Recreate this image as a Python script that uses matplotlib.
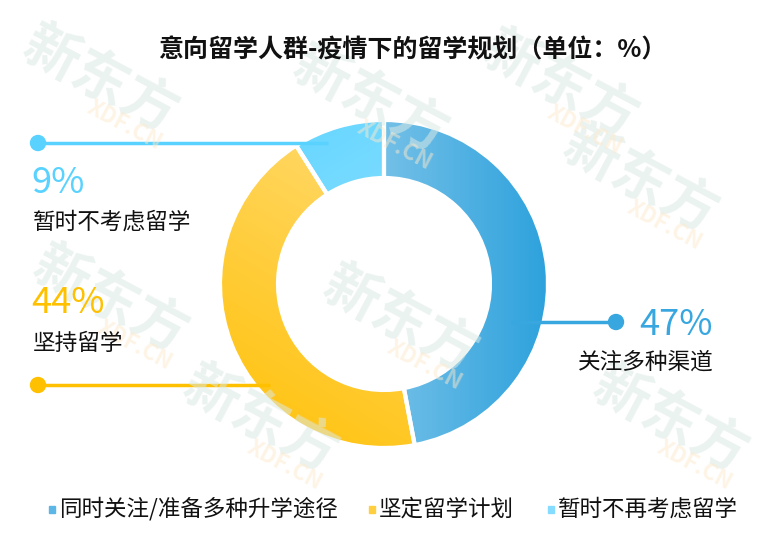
import numpy as np
import matplotlib
matplotlib.use('Agg')
import matplotlib.pyplot as plt
from matplotlib.patches import Wedge, Rectangle, Circle
from matplotlib.colors import LinearSegmentedColormap

plt.rcParams['font.family'] = ['Noto Sans CJK SC', 'DejaVu Sans']

# --- 数据 ---
title = '意向留学人群-疫情下的留学规划（单位：%）'
shares = [47, 44, 9]
pct_labels = ['47%', '44%', '9%']
short_labels = ['关注多种渠道', '坚持留学', '暂时不考虑留学']
legend_labels = ['同时关注/准备多种升学途径', '坚定留学计划', '暂时不再考虑留学']

# --- 样式 ---
W, H = 764, 537
cx, cy = 384, H - 284
r_out, ring = 163, 56
grad_colors = [('#b8def2', '#2ea2dd'), ('#ffe08a', '#ffc107'), ('#5fd4ff', '#b4eaff')]
# 渐变方向 (dx, dy)，像素坐标，y 向上
grad_dirs = [(1, 0), (-0.6, -1), (0.6, -1)]
main_colors = ['#38a7e0', '#ffc000', '#5ad2ff']
legend_sq = ['#5cb6e6', '#ffcf3f', '#86dcff']

fig = plt.figure(figsize=(W / 100, H / 100), dpi=100)
ax = fig.add_axes([0, 0, 1, 1])
ax.set_xlim(0, W)
ax.set_ylim(0, H)
ax.axis('off')

# --- 甜甜圈（渐变填充） ---
xx, yy = np.meshgrid(np.linspace(cx - r_out, cx + r_out, 300),
                     np.linspace(cy - r_out, cy + r_out, 300))
start = 90
for share, (c0, c1), (dx, dy) in zip(shares, grad_colors, grad_dirs):
    end = start - share * 3.6
    w = Wedge((cx, cy), r_out, end, start, width=ring,
              facecolor='none', edgecolor='none')
    ax.add_patch(w)
    proj = (xx - cx) * dx + (yy - cy) * dy
    proj = (proj - proj.min()) / (proj.max() - proj.min())
    cmap = LinearSegmentedColormap.from_list('g', [c0, c1])
    im = ax.imshow(proj, cmap=cmap, origin='lower', zorder=2,
                   extent=[cx - r_out, cx + r_out, cy - r_out, cy + r_out])
    im.set_clip_path(w)
    # 白色分隔
    ax.add_patch(Wedge((cx, cy), r_out + 1, end, start, width=ring + 2,
                       facecolor='none', edgecolor='white', lw=3, zorder=3))
    start = end

# --- 引线与标注 ---
# 暂时不考虑留学
ax.plot([38, 328], [H - 143, H - 143], color=main_colors[2], lw=2.5, zorder=4,
        solid_capstyle='butt')
ax.add_patch(Circle((38, H - 143), 7.5, color=main_colors[2], zorder=5))
ax.text(31, H - 183, pct_labels[2], color=main_colors[2], fontsize=26,
        va='center', ha='left', zorder=6)
ax.text(33, H - 222, short_labels[2], color='#111111', fontsize=16.3,
        va='center', ha='left', zorder=6)

# 坚持留学
ax.plot([38, 270], [H - 385, H - 385], color=main_colors[1], lw=2.5, zorder=4,
        solid_capstyle='butt')
ax.add_patch(Circle((38, H - 385), 7.5, color=main_colors[1], zorder=5))
ax.text(31, H - 303, pct_labels[1], color=main_colors[1], fontsize=26,
        va='center', ha='left', zorder=6)
ax.text(33, H - 344, short_labels[1], color='#111111', fontsize=16.3,
        va='center', ha='left', zorder=6)

# 关注多种渠道
ax.plot([511, 614], [H - 322, H - 322], color=main_colors[0], lw=2.5, zorder=4,
        solid_capstyle='butt')
ax.add_patch(Circle((616, H - 322), 7.5, color=main_colors[0], zorder=5))
ax.text(713, H - 325, pct_labels[0], color=main_colors[0], fontsize=26,
        va='center', ha='right', zorder=6)
ax.text(714, H - 362, short_labels[0], color='#111111', fontsize=16.3,
        va='center', ha='right', zorder=6)

# --- 标题 ---
ax.text(412, H - 50, title, color='#111111', fontsize=18, fontweight='bold',
        ha='center', va='center', zorder=6)

# --- 图例 ---
leg_x = [49, 369, 548]
for x0, lab, col in zip(leg_x, legend_labels, legend_sq):
    ax.add_patch(Rectangle((x0, H - 513), 6, 7, color=col, zorder=6))
    ax.text(x0 + 10, H - 509, lab, color='#111111', fontsize=16.2,
            ha='left', va='center', zorder=6)

# --- 水印 ---
wm_pos = [(100, 80), (370, 100), (640, 180), (110, 300), (400, 320),
          (670, 420), (260, 420), (560, 85)]
for x0, y0 in wm_pos:
    ax.text(x0, H - y0, '新东方', color='#dbe9e5', alpha=0.55, fontsize=40,
            fontweight='bold', rotation=-28, ha='center', va='center', zorder=4)
    ax.text(x0 + 25, H - y0 - 45, 'XDF.CN', color='#fde9cc', alpha=0.5,
            fontsize=16, fontweight='bold', rotation=-28, ha='center',
            va='center', zorder=4)

plt.savefig('out.png', dpi=100)
